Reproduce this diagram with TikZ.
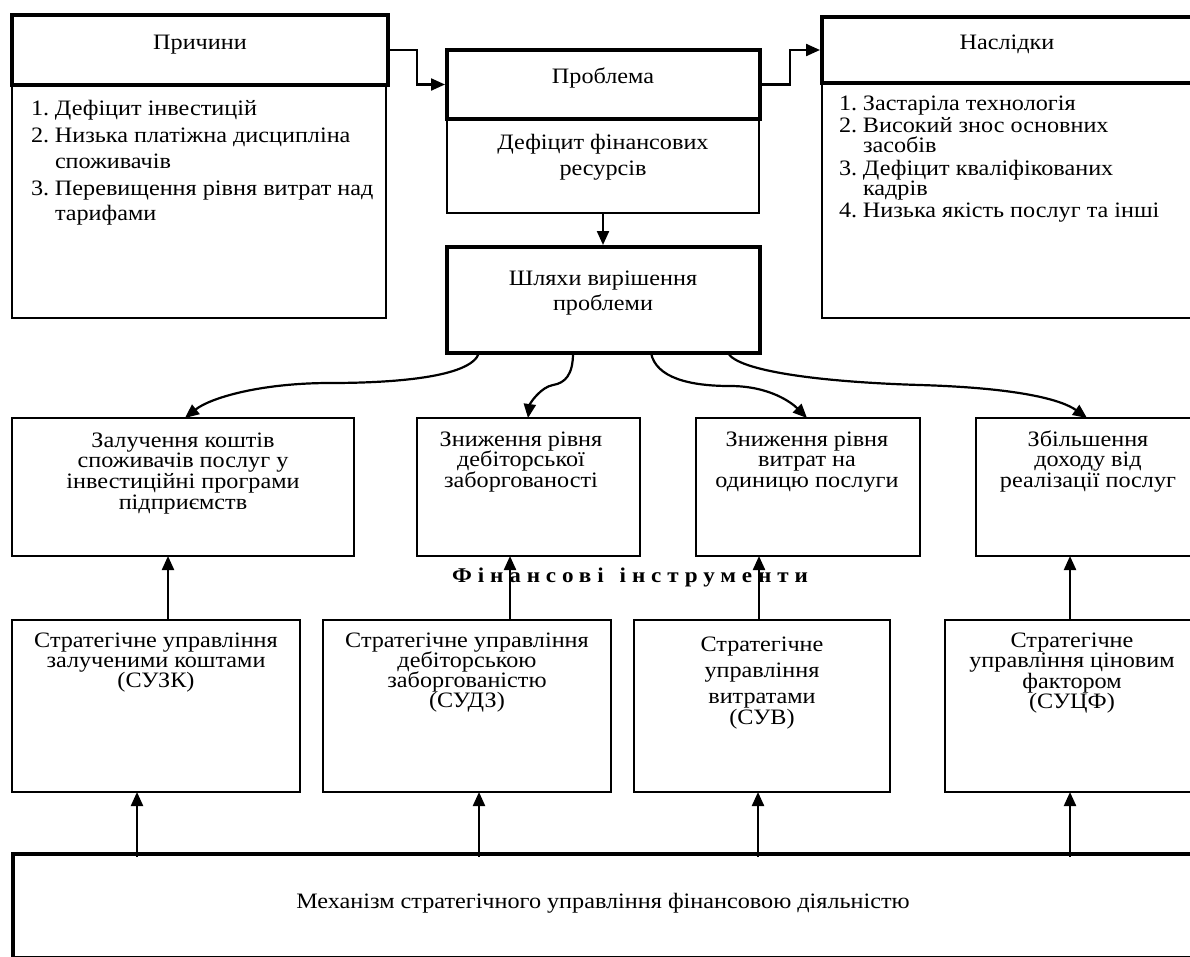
\documentclass[tikz,border=0pt]{standalone}
\usepackage{fontspec}
\setmainfont{Liberation Serif}[FakeStretch=1.1]
\usetikzlibrary{arrows.meta,calc}

\tikzset{
  boxbase/.style={draw, inner sep=0pt, outer sep=0pt, anchor=north west},
  thickbox/.style={boxbase, line width=4.5pt},
  thinbox/.style={boxbase, line width=1.7pt},
  txt/.style={inner sep=0pt, outer sep=0pt, font=\fontsize{22}{25}\selectfont},
  arr/.style={line width=2.2pt, -{Triangle[length=14pt,width=12pt]}},
}

\begin{document}
\begin{tikzpicture}[x=1pt, y=-1pt]
\useasboundingbox (0,0) rectangle (1190,956);
\clip (0,0) rectangle (1190,956);

% ---- top row: causes, problem, consequences ----
\node[thinbox, minimum width=374pt, minimum height=233pt] (prB) at (12,85) {};
\node[thickbox, minimum width=376pt, minimum height=70pt] (prH) at (12,15) {};
\node[txt, anchor=base] (prT) at (200,49) {Причини};
\foreach \n/\t/\y [count=\i] in {1./Дефіцит інвестицій/115,
    2./Низька платіжна дисципліна/142, /споживачів/168,
    3./Перевищення рівня витрат над/195, /тарифами/220}
  \node[txt, anchor=base west] (prL\i) at (31,\y) {\makebox[24pt][l]{\n}\t};

\node[thinbox, minimum width=312pt, minimum height=94pt] (pbB) at (447,119) {};
\node[thickbox, minimum width=313pt, minimum height=69pt] (pbH) at (447,50) {};
\node[txt, anchor=base] (pbT) at (603,83) {Проблема};
\node[txt, anchor=base] (pbL1) at (603,149) {Дефіцит фінансових};
\node[txt, anchor=base] (pbL2) at (603,175) {ресурсів};

\node[thinbox, minimum width=373pt, minimum height=235pt] (nsB) at (822,83) {};
\node[thickbox, minimum width=373pt, minimum height=66pt] (nsH) at (822,17) {};
\node[txt, anchor=base] (nsT) at (1007,49) {Наслідки};
\foreach \n/\t/\y [count=\i] in {1./Застаріла технологія/110,
    2./Високий знос основних/132, /засобів/152,
    3./Дефіцит кваліфікованих/175, /кадрів/195,
    4./Низька якість послуг та інші/217}
  \node[txt, anchor=base west] (nsL\i) at (839,\y) {\makebox[24pt][l]{\n}\t};

% ---- ways of solving ----
\node[thickbox, minimum width=313pt, minimum height=106pt] (sh) at (447,247) {};
\node[txt, anchor=base] (shL1) at (603,285) {Шляхи вирішення};
\node[txt, anchor=base] (shL2) at (603,310) {проблеми};

% ---- directions ----
\node[thinbox, minimum width=342pt, minimum height=138pt] (r1) at (12,418) {};
\node[thinbox, minimum width=223pt, minimum height=138pt] (r2) at (417,418) {};
\node[thinbox, minimum width=224pt, minimum height=138pt] (r3) at (696,418) {};
\node[thinbox, minimum width=219pt, minimum height=138pt] (r4) at (976,418) {};
\foreach \t [count=\i] in {Залучення коштів, споживачів послуг у,
    інвестиційні програми, підприємств}
  \node[txt, anchor=base] (r1L\i) at (183,{447+20.7*(\i-1)}) {\t};
\foreach \t [count=\i] in {Зниження рівня, дебіторської, заборгованості}
  \node[txt, anchor=base] (r2L\i) at (521,{446+20.5*(\i-1)}) {\t};
\foreach \t [count=\i] in {Зниження рівня, витрат на, одиницю послуги}
  \node[txt, anchor=base] (r3L\i) at (807,{446+20.5*(\i-1)}) {\t};
\foreach \t [count=\i] in {Збільшення, доходу від, реалізації послуг}
  \node[txt, anchor=base] (r4L\i) at (1088,{446+20.5*(\i-1)}) {\t};

% ---- financial instruments ----
\node[txt, anchor=base, font=\fontsize{21}{24}\selectfont\bfseries\addfontfeature{LetterSpace=28}]
  (fin) at (630,582) {Фінансові\hspace{16pt}інструменти};

\node[thinbox, minimum width=288pt, minimum height=172pt] (s1) at (12,620) {};
\node[thinbox, minimum width=288pt, minimum height=172pt] (s2) at (323,620) {};
\node[thinbox, minimum width=256pt, minimum height=172pt] (s3) at (634,620) {};
\node[thinbox, minimum width=250pt, minimum height=172pt] (s4) at (945,620) {};
\foreach \t [count=\i] in {Стратегічне управління, залученими коштами, (СУЗК)}
  \node[txt, anchor=base] (s1L\i) at (156,{647+20*(\i-1)}) {\t};
\foreach \t [count=\i] in {Стратегічне управління, дебіторською,
    заборгованістю, (СУДЗ)}
  \node[txt, anchor=base] (s2L\i) at (467,{647+20*(\i-1)}) {\t};
\foreach \t/\y [count=\i] in {Стратегічне/651, управління/677,
    витратами/703, (СУВ)/724}
  \node[txt, anchor=base] (s3L\i) at (762,\y) {\t};
\foreach \t/\y [count=\i] in {Стратегічне/647, управління ціновим/667,
    фактором/688, (СУЦФ)/708}
  \node[txt, anchor=base] (s4L\i) at (1072,\y) {\t};

% ---- mechanism ----
\node[thickbox, minimum width=1182pt, minimum height=104pt] (mech) at (13,854) {};
\node[txt, anchor=base] (mechT) at (603,908)
  {Механізм стратегічного управління фінансовою діяльністю};

% ---- connectors ----
\draw[arr, shorten >=2pt] (prH.east) -- ++(29,0) |- (pbH.west);
\draw[arr, shorten >=2pt] (pbH.east) -- ++(30,0) |- (nsH.west);
\draw[arr, shorten >=2pt] (pbB.south) -- (pbB.south |- sh.north);

\coordinate (m1) at (330,383);
\coordinate (m2) at (553,385);
\coordinate (m3) at (730,386);
\coordinate (m4) at (920,385);
\draw[arr] ([xshift=32pt]sh.south west) .. controls +(-8,25) and +(60,0) .. (m1)
  .. controls +(-70,0) and +(25,-20) .. ([xshift=173pt]r1.north west);
\draw[arr] ([xshift=126pt]sh.south west) .. controls +(0,22) and +(12,-2) .. (m2)
  .. controls +(-12,2) and +(2,-15) .. ([xshift=111pt]r2.north west);
\draw[arr] ([xshift=204pt]sh.south west) .. controls +(5,25) and +(-40,0) .. (m3)
  .. controls +(40,0) and +(-15,-15) .. ([xshift=111pt]r3.north west);
\draw[arr] ([xshift=281pt]sh.south west) .. controls +(10,18) and +(-100,-3) .. (m4)
  .. controls +(100,3) and +(-25,-18) .. ([xshift=111pt]r4.north west);

\foreach \b/\dx in {s1/156, s2/187, s3/125, s4/125}
  \draw[arr] ([xshift=\dx pt]\b.north west) coordinate (up\b)
    -- (up\b |- r1.south);
\foreach \b/\dx in {s1/124, s2/466, s3/745, s4/1057}
  \draw[arr] ([xshift=\dx pt, yshift=-3pt]mech.north west) coordinate (low\b)
    -- (low\b |- \b.south);
\end{tikzpicture}
\end{document}
